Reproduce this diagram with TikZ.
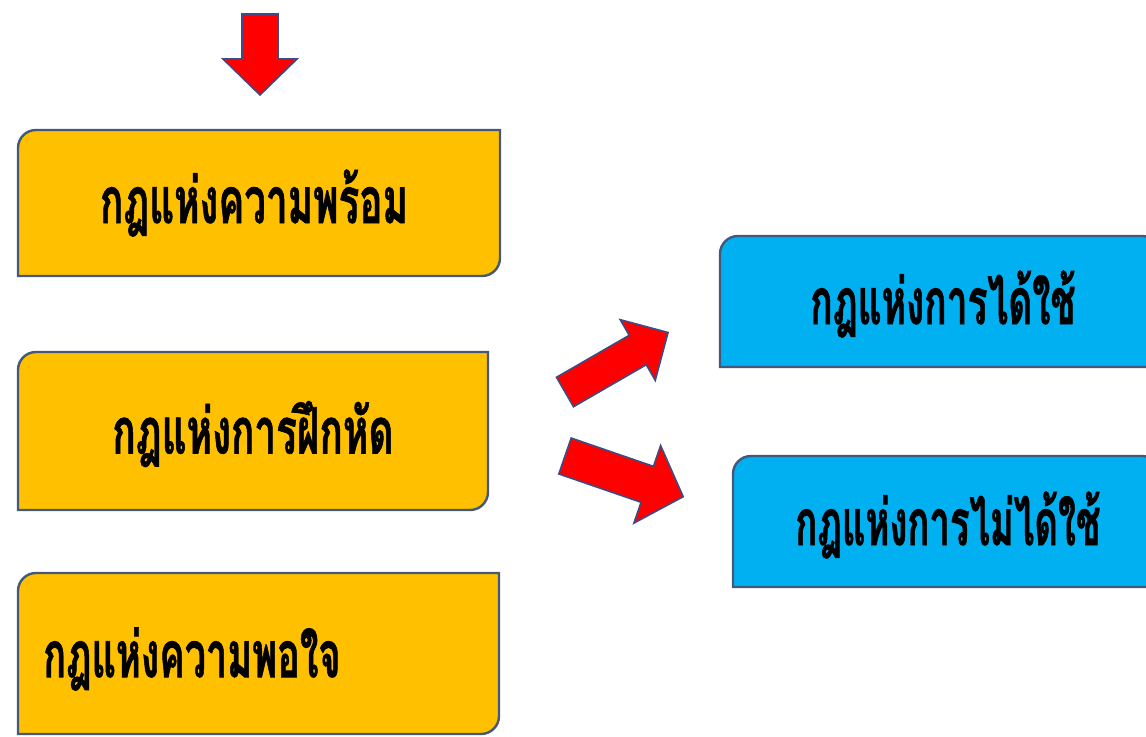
\documentclass[tikz,border=0pt]{standalone}
\usepackage{fontspec}
\usepackage{graphicx}
\newfontfamily\thaifont[Script=Thai,FakeBold=1.2]{Loma}
\definecolor{boxorange}{HTML}{FFC000}
\definecolor{boxblue}{HTML}{00B0F0}
\definecolor{edgeline}{HTML}{44597A}
\definecolor{arrowred}{HTML}{FF0000}
\definecolor{arrowedge}{HTML}{3E4C85}
\newcommand{\thw}[2]{\resizebox{#1}{\height}{\thaifont\bfseries #2}}
\tikzset{
  boxshape/.style={draw=edgeline, line width=1.8pt},
  orangebox/.style={boxshape, fill=boxorange},
  bluebox/.style={boxshape, fill=boxblue},
  blockarrow/.style={draw=arrowedge, line width=1.2pt, fill=arrowred, line join=miter},
  label/.style={inner sep=0pt, font=\fontsize{48pt}{54pt}\selectfont, text=black}
}
\begin{document}
\begin{tikzpicture}[x=0.75pt, y=-0.75pt]
\useasboundingbox (0,0) rectangle (1146,736);
\fill[white] (0,0) rectangle (1146,736);
% top down arrow
\draw[blockarrow] (242,14) -- (278,14) -- (278,59) -- (297,59) -- (260,95) -- (223,59) -- (242,59) -- cycle;
% orange boxes
\draw[orangebox] (18,276) -- (18,148) .. controls (18,138) and (26,130) .. (36,130) -- (500,130) -- (500,258) .. controls (500,268) and (492,276) .. (482,276) -- cycle;
\draw[orangebox] (18,510) -- (18,370) .. controls (18,360) and (26,352) .. (36,352) -- (488,352) -- (488,492) .. controls (488,502) and (480,510) .. (470,510) -- cycle;
\draw[orangebox] (18,734) -- (18,591) .. controls (18,581) and (26,573) .. (36,573) -- (499,573) -- (499,716) .. controls (499,726) and (491,734) .. (481,734) -- cycle;
% blue boxes
\draw[bluebox] (720,367) -- (720,254) .. controls (720,244) and (728,236) .. (738,236) -- (1142,236) .. controls (1152,236) and (1160,244) .. (1160,254) -- (1160,367) -- cycle;
\draw[bluebox] (733,587) -- (733,474) .. controls (733,464) and (741,456) .. (751,456) -- (1142,456) .. controls (1152,456) and (1160,464) .. (1160,474) -- (1160,587) -- cycle;
% diagonal block arrows
\begin{scope}[shift={(565,392)}, rotate=30]
\draw[blockarrow] (0,-17) -- (84,-17) -- (84,-35) -- (119,0) -- (84,35) -- (84,17) -- (0,17) -- cycle;
\end{scope}
\begin{scope}[shift={(565,456)}, rotate=-19]
\draw[blockarrow] (0,-19) -- (87,-19) -- (87,-41) -- (125,0) -- (87,41) -- (87,19) -- (0,19) -- cycle;
\end{scope}
% texts
\node[label] (ready) at (254,203) {\thw{231pt}{กฎแห่งความพร้อม}};
\node[label] (practice) at (253,434) {\thw{211pt}{กฎแห่งการฝึกหัด}};
\node[label, anchor=west] (satisfy) at (43,659) {\thw{223pt}{กฎแห่งความพอใจ}};
\node[label] (use) at (943,304) {\thw{199pt}{กฎแห่งการได้ใช้}};
\node[label] (disuse) at (948,525) {\thw{229pt}{กฎแห่งการไม่ได้ใช้}};
\end{tikzpicture}
\end{document}
